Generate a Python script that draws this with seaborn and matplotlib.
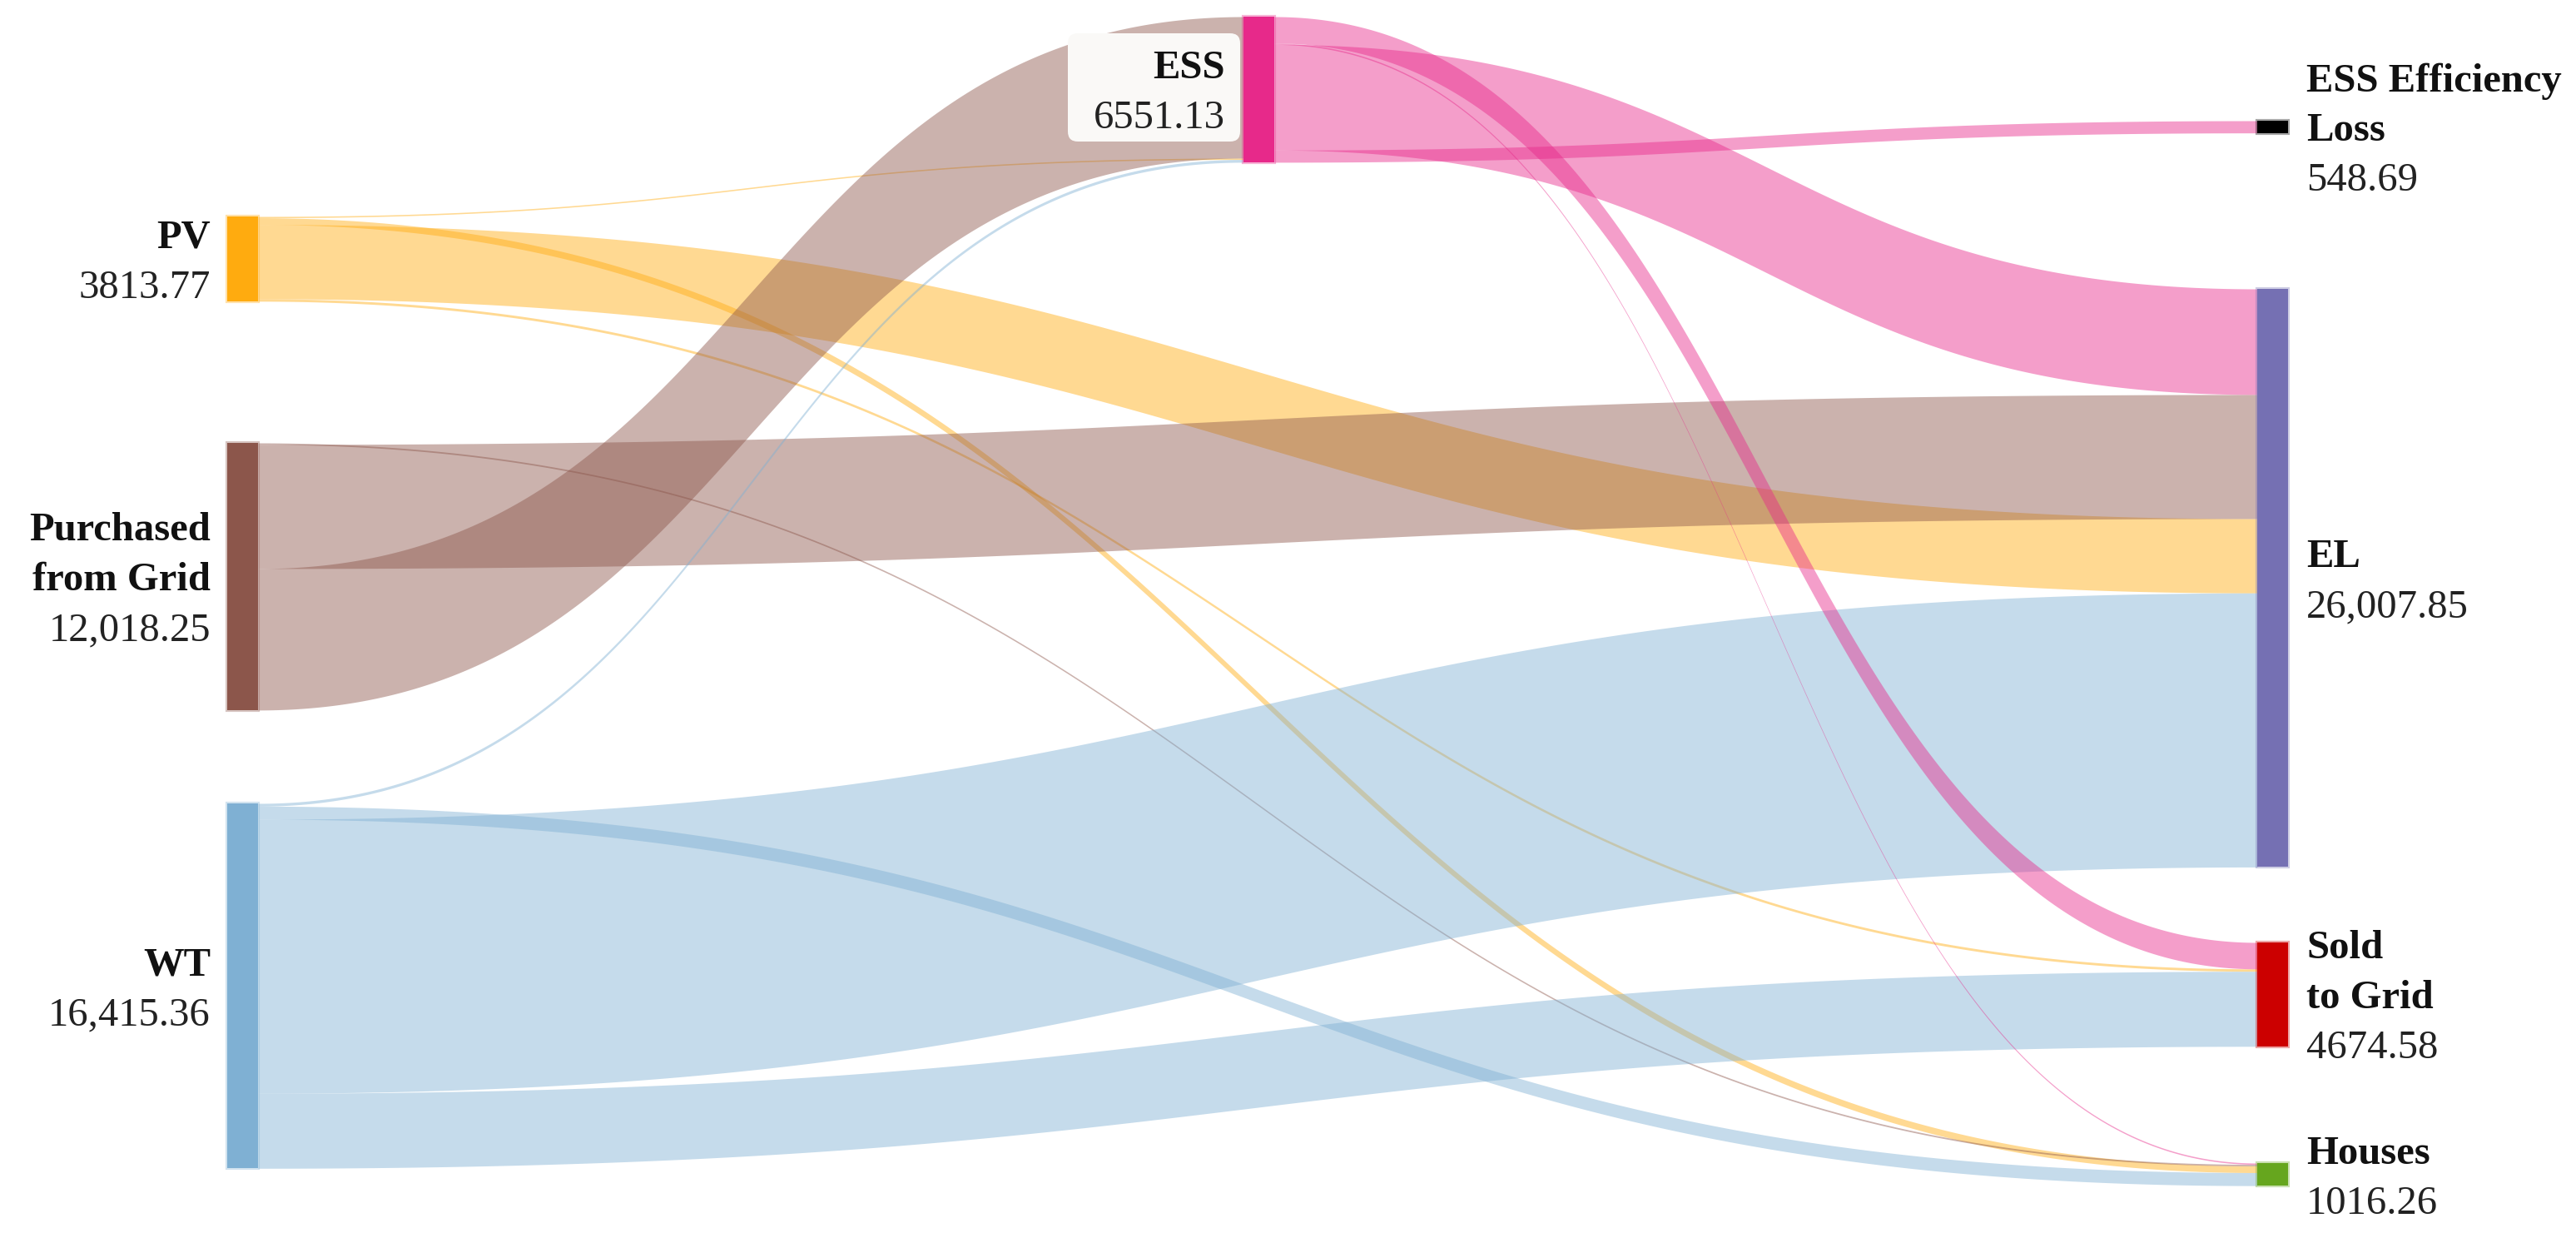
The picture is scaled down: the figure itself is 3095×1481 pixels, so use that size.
import matplotlib
matplotlib.use("Agg")
import matplotlib.pyplot as plt
from matplotlib.patches import FancyBboxPatch
import numpy as np
import seaborn as sns

# nodes
node_keys = ["PV", "Grid", "WT", "ESS", "Loss", "EL", "Sold", "Houses"]
node_names = ["PV", "Purchased\nfrom Grid", "WT", "ESS", "ESS Efficiency\nLoss",
              "EL", "Sold\nto Grid", "Houses"]
node_values = [3813.77, 12018.25, 16415.36, 6551.13, 548.69, 26007.85, 4674.58, 1016.26]
node_colors = ["#ffab0f", "#8c564b", "#7fb0d3", "#e7298a", "#000000",
               "#7570b3", "#cc0000", "#66a61e"]

# links, listed in the order they leave each source (top to bottom)
link_source = ["PV", "PV", "PV", "PV",
               "Grid", "Grid", "Grid",
               "WT", "WT", "WT", "WT",
               "ESS", "ESS", "ESS", "ESS"]
link_target = ["ESS", "Houses", "EL", "Sold",
               "Houses", "EL", "ESS",
               "ESS", "Houses", "EL", "Sold",
               "Sold", "Houses", "EL", "Loss"]
link_value = [60.0, 300.0, 3343.77, 110.0,
              70.0, 5583.0, 6365.25,
              125.88, 586.26, 12328.64, 3374.58,
              1190.0, 60.0, 4752.44, 548.69]

# order in which links arrive at each target (top to bottom)
arrive_order = {"ESS": ["Grid", "PV", "WT"],
                "EL": ["ESS", "Grid", "PV", "WT"],
                "Sold": ["ESS", "PV", "WT"],
                "Houses": ["ESS", "Grid", "PV", "WT"],
                "Loss": ["ESS"]}

# layout (pixels)
W, H = 3095, 1481
PX_PER_UNIT = 0.0267
NODE_W = 37
LINE_STEP = 60
node_x = {"PV": 273, "Grid": 273, "WT": 273, "ESS": 1494,
          "Loss": 2712, "EL": 2712, "Sold": 2712, "Houses": 2712}
node_top = {"PV": 260, "Grid": 532, "WT": 965, "ESS": 20,
            "Loss": 145, "EL": 347, "Sold": 1132, "Houses": 1397}

sns.set_theme(style="white")
plt.rcParams['font.family'] = ['Liberation Serif', 'DejaVu Serif']

fig = plt.figure(figsize=(W / 100, H / 100), dpi=100)
ax = fig.add_axes([0, 0, 1, 1])
ax.set_xlim(0, W)
ax.set_ylim(H, 0)
ax.axis('off')

color_of = dict(zip(node_keys, node_colors))


def band(x0, y0a, y0b, x1, y1a, y1b, color):
    t = np.linspace(0, 1, 300)
    xm = (x0 + x1) / 2
    x = (1 - t) ** 3 * x0 + 3 * (1 - t) ** 2 * t * xm + 3 * (1 - t) * t ** 2 * xm + t ** 3 * x1
    s = 3 * t ** 2 - 2 * t ** 3
    ya = y0a + (y1a - y0a) * s
    yb = y0b + (y1b - y0b) * s
    ax.fill_between(x, ya, yb, color=color, alpha=0.45, lw=0, zorder=1)


# where each link starts at its source
out_off = {k: node_top[k] for k in node_keys}
start = []
for s, v in zip(link_source, link_value):
    h = v * PX_PER_UNIT
    start.append((out_off[s], out_off[s] + h))
    out_off[s] += h

# where each link ends at its target
end = [None] * len(link_value)
for tgt, order in arrive_order.items():
    off = node_top[tgt]
    for src in order:
        i = [j for j in range(len(link_value))
             if link_source[j] == src and link_target[j] == tgt][0]
        h = link_value[i] * PX_PER_UNIT
        end[i] = (off, off + h)
        off += h

for i in range(len(link_value)):
    s, t = link_source[i], link_target[i]
    band(node_x[s] + NODE_W, start[i][0], start[i][1],
         node_x[t], end[i][0], end[i][1], color_of[s])

# nodes
for k, v, c in zip(node_keys, node_values, node_colors):
    ax.bar(node_x[k] + NODE_W / 2, v * PX_PER_UNIT, bottom=node_top[k], width=NODE_W,
           color=c, edgecolor=matplotlib.colors.to_rgba(c, 0.35), linewidth=3, zorder=3)

# ESS label background
ax.add_patch(FancyBboxPatch((1283, 40), 207, 130,
                            boxstyle="round,pad=0,rounding_size=12",
                            facecolor="#faf9f7", edgecolor="none", zorder=4))


def fmt(v):
    return f"{v:,.2f}" if v >= 10000 else f"{v:.2f}"


for k, name, v in zip(node_keys, node_names, node_values):
    lines = name.split("\n") + [fmt(v)]
    n = len(lines)
    cy = node_top[k] + v * PX_PER_UNIT / 2
    if node_x[k] < 1000:
        tx, ha = node_x[k] - 20, 'right'
    elif k == "ESS":
        tx, ha = node_x[k] - 22, 'right'
    else:
        tx, ha = node_x[k] + NODE_W + 22, 'left'
    for i, line in enumerate(lines):
        y = cy + (i - (n - 1) / 2) * LINE_STEP
        ax.text(tx, y, line, ha=ha, va='center_baseline', fontsize=35,
                fontweight='bold' if i < n - 1 else 'normal',
                color='#111111' if i < n - 1 else '#222222', zorder=5)

fig.savefig("out.png", dpi=100, facecolor="white")
